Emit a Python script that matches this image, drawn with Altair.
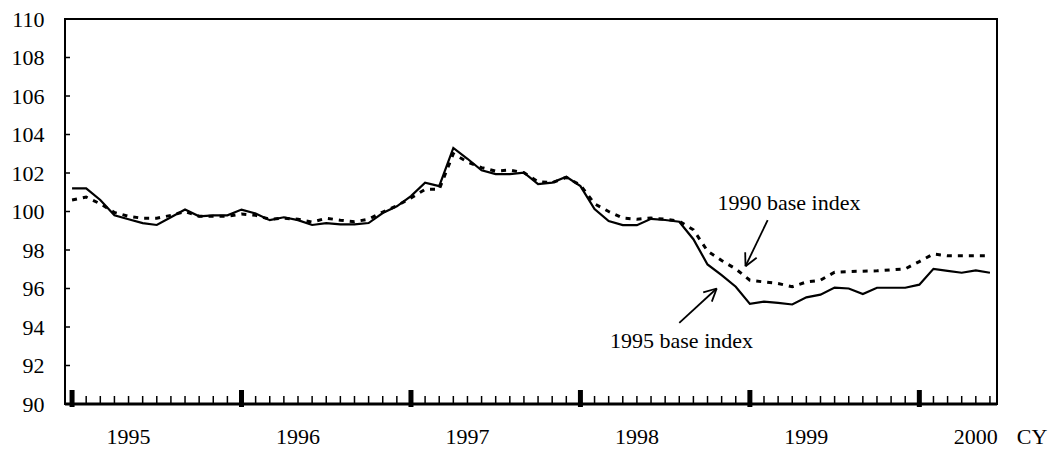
import math
import altair as alt
import pandas as pd

# ---------------- data ----------------
years = [1995, 1996, 1997, 1998, 1999, 2000]
months = list(range(66))  # Jan 1995 .. Jun 2000, month index

base1995 = [
    101.2, 101.2, 100.6, 99.8, 99.6, 99.4, 99.3, 99.7, 100.1, 99.75, 99.8, 99.8,
    100.1, 99.9, 99.55, 99.7, 99.55, 99.3, 99.4, 99.33, 99.33, 99.4, 99.92, 100.27,
    100.8, 101.5, 101.32, 103.3, 102.74, 102.14, 101.94, 101.94, 102.02, 101.42, 101.5, 101.8,
    101.32, 100.13, 99.5, 99.29, 99.29, 99.62, 99.56, 99.47, 98.56, 97.25, 96.69, 96.09,
    95.2, 95.32, 95.25, 95.17, 95.54, 95.68, 96.05, 96.0, 95.71, 96.04, 96.04, 96.04,
    96.2, 97.02, 96.92, 96.82, 96.94, 96.82,
]
base1990 = [
    100.6, 100.75, 100.4, 99.95, 99.75, 99.65, 99.65, 99.8, 100.0, 99.75, 99.75, 99.75,
    99.87, 99.8, 99.6, 99.65, 99.6, 99.45, 99.65, 99.55, 99.47, 99.6, 99.97, 100.3,
    100.7, 101.15, 101.15, 103.0, 102.57, 102.28, 102.1, 102.15, 102.02, 101.55, 101.5, 101.77,
    101.37, 100.4, 100.0, 99.66, 99.6, 99.66, 99.6, 99.5, 99.05, 97.95, 97.45, 97.02,
    96.43, 96.34, 96.26, 96.09, 96.34, 96.43, 96.85, 96.88, 96.9, 96.92, 96.97, 97.02,
    97.4, 97.79, 97.7, 97.7, 97.7, 97.7,
]
y_ticks = [90, 92, 94, 96, 98, 100, 102, 104, 106, 108, 110]

# annotations (data units: month index, index value)
ann_labels = ["1990 base index", "1995 base index"]
ann_text_pos = [(50.77, 100.43), (43.16, 93.27)]
ann_arrows = [((49.26, 99.55), (47.69, 97.16)), ((43.0, 94.21), (45.65, 96.0))]

# ---------------- layout ----------------
W, H = 932, 385
XDOM = [-0.5, 65.5]
YDOM = [90, 110]
FONT = "Liberation Serif"
FS = 22

xs = alt.Scale(domain=XDOM, nice=False, zero=False)
ys = alt.Scale(domain=YDOM, nice=False, zero=False)
yax = alt.Axis(values=y_ticks, ticks=False, domain=False, grid=False,
               labelFont=FONT, labelFontSize=FS, labelColor="black",
               labelOverlap=False, labelPadding=21, title=None)


def X(field):
    return alt.X(field, scale=xs, axis=None)


def Y(field):
    return alt.Y(field, scale=ys, axis=yax)


px_per_x = W / (XDOM[1] - XDOM[0])
px_per_y = H / (YDOM[1] - YDOM[0])

df = pd.DataFrame({"m": months, "b95": base1995, "b90": base1990})

solid = alt.Chart(df).mark_line(color="black", strokeWidth=2.2).encode(
    x=X("m:Q"), y=Y("b95:Q"),
)
dashed = alt.Chart(df).mark_line(color="black", strokeWidth=3, strokeDash=[5, 6]).encode(
    x=X("m:Q"), y=Y("b90:Q"),
)

# x ticks
minor_df = pd.DataFrame({"m": months})
minor = alt.Chart(minor_df).mark_rule(color="black", strokeWidth=1.5).encode(
    x=X("m:Q"), y=alt.value(H), y2=alt.value(H - 8)
)
major_df = pd.DataFrame({"m": [m for m in months if m % 12 == 0]})
major = alt.Chart(major_df).mark_rule(color="black", strokeWidth=5).encode(
    x=X("m:Q"), y=alt.value(H + 3), y2=alt.value(H - 14)
)
bottom = alt.Chart(pd.DataFrame({"v": [YDOM[0]]})).mark_rule(color="black", strokeWidth=3).encode(
    y=Y("v:Q"), x=alt.value(0), x2=alt.value(W)
)
# y ticks (inward)
ytick = alt.Chart(pd.DataFrame({"v": y_ticks})).mark_rule(color="black", strokeWidth=1.5).encode(
    y=Y("v:Q"), x=alt.value(0), x2=alt.value(5)
)

# year labels
yl_df = pd.DataFrame({"m": [(y - 1995) * 12 + 4 for y in years], "t": [str(y) for y in years]})
year_lbl = alt.Chart(yl_df).mark_text(font=FONT, fontSize=FS, color="black",
                                      baseline="middle", align="center").encode(
    x=X("m:Q"), y=alt.value(H + 33), text="t:N"
)
cy = alt.Chart(pd.DataFrame({"t": ["CY"]})).mark_text(font=FONT, fontSize=FS, color="black",
                                                     baseline="alphabetic", align="center").encode(
    x=alt.value(W + 35), y=alt.value(H + 40), text="t:N"
)

# annotation texts
at_df = pd.DataFrame({"m": [p[0] for p in ann_text_pos], "v": [p[1] for p in ann_text_pos],
                      "t": ann_labels})
ann_text = alt.Chart(at_df).mark_text(font=FONT, fontSize=FS, color="black",
                                      baseline="middle", align="center").encode(
    x=X("m:Q"), y=Y("v:Q"), text="t:N"
)

# arrows: shaft + two head strokes
segs = []
HEAD = 14
ANG = math.radians(27)
for (t0, t1) in ann_arrows:
    (mx0, vy0), (mx1, vy1) = t0, t1
    segs.append({"x": mx0, "y": vy0, "x2": mx1, "y2": vy1})
    dx = (mx1 - mx0) * px_per_x
    dy = -(vy1 - vy0) * px_per_y
    L = math.hypot(dx, dy)
    ux, uy = dx / L, dy / L
    for s in (1, -1):
        ca, sa = math.cos(s * ANG), math.sin(s * ANG)
        bx = -(ux * ca - uy * sa) * HEAD
        by = -(ux * sa + uy * ca) * HEAD
        segs.append({"x": mx1, "y": vy1,
                     "x2": mx1 + bx / px_per_x, "y2": vy1 - by / px_per_y})
arrows = alt.Chart(pd.DataFrame(segs)).mark_rule(color="black", strokeWidth=1.8).encode(
    x=X("x:Q"), y=Y("y:Q"), x2="x2:Q", y2="y2:Q",
)

chart = alt.layer(
    solid, dashed, minor, major, bottom, ytick, year_lbl, cy, ann_text, arrows
).properties(
    width=W, height=H,
    autosize=alt.AutoSizeParams(type="none"),
    padding={"left": 57, "top": 11, "right": 51, "bottom": 44},
    background="white",
).configure_view(stroke="black", strokeWidth=2)

chart.save("out.html", embed_options={"renderer": "svg", "actions": False})
